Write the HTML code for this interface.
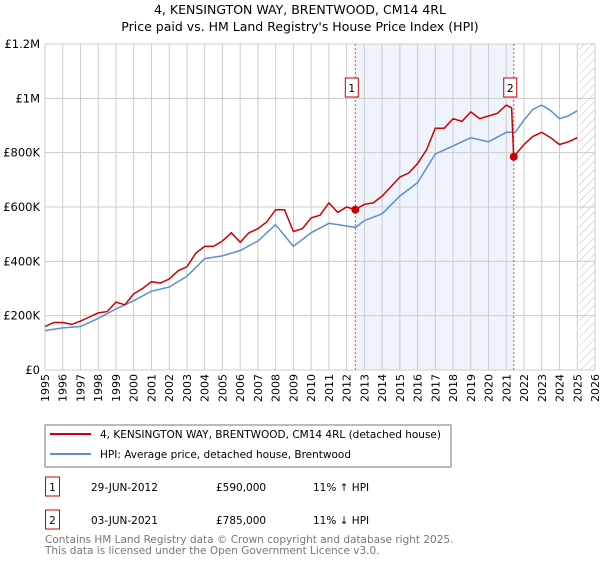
<!DOCTYPE html>
<html><head><meta charset="utf-8"><style>
body{margin:0;background:#fff;font-family:"Liberation Sans","DejaVu Sans",sans-serif;}
svg text{font-family:"DejaVu Sans","Liberation Sans",sans-serif;}
</style></head><body>
<svg id="c" width="600" height="560" xmlns="http://www.w3.org/2000/svg">
<defs><pattern id="h" width="6" height="6" patternUnits="userSpaceOnUse" patternTransform="rotate(45)"><line x1="0" y1="0" x2="0" y2="6" stroke="#bbb" stroke-width="1"/></pattern></defs>
<text x="300" y="14" text-anchor="middle" font-size="12.5">4, KENSINGTON WAY, BRENTWOOD, CM14 4RL</text>
<text x="300" y="31" text-anchor="middle" font-size="12.5">Price paid vs. HM Land Registry's House Price Index (HPI)</text>
<g id="plot"></g>
<rect x="45" y="425" width="406" height="42" fill="#fff" stroke="#777"/>
<line x1="50" y1="434" x2="91" y2="434" stroke="#cc0000" stroke-width="2"/>
<text x="100" y="438" font-size="10.5">4, KENSINGTON WAY, BRENTWOOD, CM14 4RL (detached house)</text>
<line x1="50" y1="454" x2="91" y2="454" stroke="#5b8fd0" stroke-width="2"/>
<text x="100" y="458" font-size="10.5">HPI: Average price, detached house, Brentwood</text>
<rect x="45.5" y="477" width="14" height="19" fill="#fff" stroke="#cc0000"/>
<text x="52.5" y="491" font-size="10.5" text-anchor="middle">1</text>
<text x="91" y="491" font-size="10.5">29-JUN-2012</text>
<text x="216" y="491" font-size="10.5">£590,000</text>
<text x="313" y="491" font-size="10.5">11% ↑ HPI</text>
<rect x="45.5" y="510" width="14" height="19" fill="#fff" stroke="#cc0000"/>
<text x="52.5" y="524" font-size="10.5" text-anchor="middle">2</text>
<text x="91" y="524" font-size="10.5">03-JUN-2021</text>
<text x="216" y="524" font-size="10.5">£785,000</text>
<text x="313" y="524" font-size="10.5">11% ↓ HPI</text>
<text x="45" y="543" font-size="10.5" fill="#777">Contains HM Land Registry data © Crown copyright and database right 2025.</text>
<text x="45" y="554" font-size="10.5" fill="#777">This data is licensed under the Open Government Licence v3.0.</text>
</svg>
<script>
const redYears=[1995,1995.5,1996,1996.5,1997,1997.5,1998,1998.5,1999,1999.5,2000,2000.5,2001,2001.5,2002,2002.5,2003,2003.5,2004,2004.5,2005,2005.5,2006,2006.5,2007,2007.5,2008,2008.5,2009,2009.5,2010,2010.5,2011,2011.5,2012,2012.49,2013,2013.5,2014,2014.5,2015,2015.5,2016,2016.5,2017,2017.5,2018,2018.5,2019,2019.5,2020,2020.5,2021,2021.3,2021.42,2022,2022.5,2023,2023.5,2024,2024.5,2025];
const redValues=[160,175,175,168,180,195,210,215,250,240,280,300,325,320,335,365,380,430,455,455,475,505,470,505,520,545,590,590,510,520,560,570,615,580,600,590,610,615,640,675,710,725,760,810,890,890,925,915,950,925,935,945,975,965,785,830,860,875,855,830,840,855];
const hpiYears=[1995,1996,1997,1998,1999,2000,2001,2002,2003,2004,2005,2006,2007,2008,2009,2010,2011,2012,2012.5,2013,2014,2015,2016,2017,2018,2019,2020,2021,2021.5,2022,2022.5,2023,2023.5,2024,2024.5,2025];
const hpiValues=[145,155,160,190,225,255,290,305,345,410,420,440,475,535,455,505,540,530,525,550,575,640,690,795,825,855,840,875,875,920,960,975,955,925,935,955];
const sales=[[2012.49,590],[2021.42,785]];
const yTicks=[0,200,400,600,800,1000,1200];
const yTickLabels=["£0","£200K","£400K","£600K","£800K","£1M","£1.2M"];
const xTicks=[1995,1996,1997,1998,1999,2000,2001,2002,2003,2004,2005,2006,2007,2008,2009,2010,2011,2012,2013,2014,2015,2016,2017,2018,2019,2020,2021,2022,2023,2024,2025,2026];
const L=45,R=595,T=44,B=370;
const xs=y=>L+(y-1995)/(2026-1995)*(R-L);
const ys=v=>B-v/1200*(B-T);
const g=document.getElementById('plot');
const NS='http://www.w3.org/2000/svg';
function mk(t,a){const e=document.createElementNS(NS,t);for(const k in a)e.setAttribute(k,a[k]);g.appendChild(e);return e;}
let e=mk('rect',{x:xs(sales[0][0]),y:T,width:xs(sales[1][0])-xs(sales[0][0]),height:B-T,fill:'#eef3fc'});


e=mk('rect',{x:xs(2025.1),y:T,width:R-xs(2025.1),height:B-T,fill:'url(#h)'});


xTicks.forEach(t=>{
 e=mk('line',{x1:xs(t),x2:xs(t),y1:T,y2:B,stroke:'#ccc','stroke-width':1});
 
 
 e=mk('text',{x:0,y:0,'font-size':11,'text-anchor':'end',transform:`translate(${xs(t)+4},${B+4}) rotate(-90)`});
 e.textContent=t;
 
 
});
yTicks.forEach((t,i)=>{
 e=mk('line',{x1:L,x2:R,y1:ys(t),y2:ys(t),stroke:'#ccc','stroke-width':1});
 
 
 e=mk('text',{x:L-5,y:ys(t)+4,'font-size':11.5,'text-anchor':'end'});
 e.textContent=yTickLabels[i];
 
 
});
sales.forEach((s,i)=>{
 e=mk('line',{x1:xs(s[0]),x2:xs(s[0]),y1:T,y2:B,stroke:'#e05050','stroke-dasharray':'2,2','stroke-width':1});
 
 
 e=mk('rect',{x:xs(s[0])-10,y:78,width:13,height:19,fill:'#fff',stroke:'#cc0000'});
 
 
 e=mk('text',{x:xs(s[0])-3.5,y:92,'font-size':11,'text-anchor':'middle'});
 e.textContent=String(i+1);
 
 
});
const path=(xa,va)=>xa.map((x,i)=>(i?'L':'M')+xs(x).toFixed(1)+','+ys(va[i]).toFixed(1)).join('');
e=mk('path',{d:path(hpiYears,hpiValues),fill:'none',stroke:'#5b8fd0','stroke-width':1.5});


e=mk('path',{d:path(redYears,redValues),fill:'none',stroke:'#cc0000','stroke-width':1.5});


sales.forEach(s=>{
 e=mk('circle',{cx:xs(s[0]),cy:ys(s[1]),r:4,fill:'#cc0000'});
 
 
});
</script>
</body></html>
